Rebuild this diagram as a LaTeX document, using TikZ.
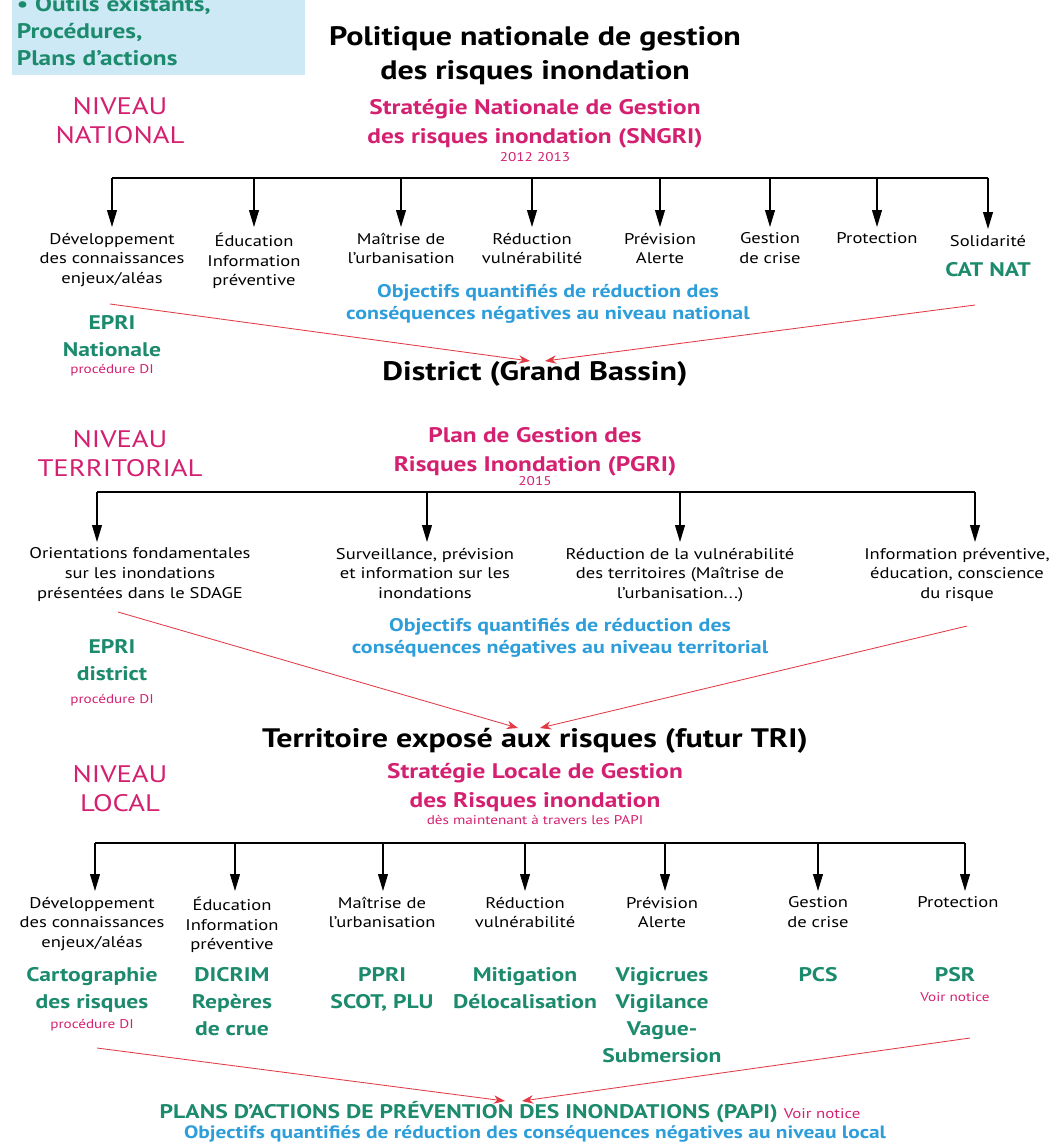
\documentclass[tikz,border=0pt]{standalone}
\usepackage{fontspec}
\setmainfont{PT Sans}[FakeStretch=1.2]
\usetikzlibrary{arrows.meta}
\definecolor{vert}{RGB}{28,138,108}
\definecolor{rose}{RGB}{212,32,112}
\definecolor{bleu}{RGB}{45,158,218}
\definecolor{rouge}{RGB}{226,58,68}
\definecolor{fond}{RGB}{206,233,246}
\tikzset{
  lbl/.style={anchor=north, align=center, inner xsep=0pt, inner ysep=4pt, font=\fontsize{11}{14}\selectfont},
  act/.style={anchor=north, align=center, inner sep=0pt, text=vert, font=\bfseries\fontsize{14}{19.3}\selectfont},
  obj/.style={anchor=north, align=center, inner sep=0pt, text=bleu, font=\bfseries\fontsize{13}{15.5}\selectfont},
  niv/.style={anchor=north, align=center, inner sep=0pt, text=rose, font=\fontsize{17}{20.5}\selectfont},
  plan/.style={anchor=north, align=center, inner sep=0pt, text=rose, font=\bfseries\fontsize{15}{20.5}\selectfont},
  note/.style={anchor=north, inner sep=0pt, text=rose, font=\fontsize{9}{10}\selectfont},
  head/.style={anchor=north, align=center, inner sep=0pt, font=\bfseries\fontsize{19}{24}\selectfont},
  a/.style={-{Triangle[length=12pt,width=7pt]}, line width=0.8pt},
  e/.style={-{Stealth[length=8pt,width=6pt]}, rouge, line width=0.6pt}
}
% bar at y #1 from x #2 to x #3, one arrow per node/x
\newcommand{\fanout}[4]{
  \draw[line width=0.8pt] (#2,#1) -- (#3,#1);
  \foreach \n/\x in {#4} {
    \draw[a] (\x,#1) -- (\n.north -| \x,0);
  }
}

\begin{document}
\begin{tikzpicture}[x=0.025cm, y=-0.025cm]
  \useasboundingbox (0,0) rectangle (1055,1144);

  % cartouche, first line cut by the page edge as in the original
  \node[fill=fond, anchor=south west, minimum width=7.325cm, text width=7.1cm, align=left, inner xsep=2pt, inner ysep=6pt,
        text=vert, font=\bfseries\fontsize{15}{19.5}\selectfont] (box) at (12,75)
        {• Outils existants,\\Procédures,\\Plans d’actions};

  % niveau national
  \node[head] (pol) at (535,26) {Politique nationale de gestion\\des risques inondation};
  \node[niv] (niv1) at (120,97) {NIVEAU\\NATIONAL};
  \node[plan] (sngri) at (535,99) {Stratégie Nationale de Gestion\\des risques inondation (SNGRI)};
  \node[note] (dates1) at (535,152) {2012 2013};

  \node[lbl] (n1) at (112,227) {Développement\\des connaissances\\enjeux/aléas};
  \node[lbl] (n2) at (254,227) {Éducation\\Information\\préventive};
  \node[lbl] (n3) at (401,227) {Maîtrise de\\l’urbanisation};
  \node[lbl] (n4) at (532,227) {Réduction\\vulnérabilité};
  \node[lbl] (n5) at (660,227) {Prévision\\Alerte};
  \node[lbl] (n6) at (770,227) {Gestion\\de crise};
  \node[lbl] (n7) at (877,227) {Protection};
  \node[lbl] (n8) at (988,229) {Solidarité};
  \fanout{178}{112}{988}{n1/112, n2/254, n3/401, n4/532, n5/660, n6/770, n7/877, n8/988}

  \node[act] (catnat) at (988,262) {CAT NAT};
  \node[obj] (obj1) at (548,284) {Objectifs quantifiés de réduction des\\conséquences négatives au niveau national};
  \node[act] (epri1) at (112,315) {EPRI\\Nationale};
  \node[note] (di1) at (112,364) {procédure DI};

  \node[head] (dist) at (535,361) {District (Grand Bassin)};
  \coordinate (r1) at (110,304);
  \coordinate (r2) at (975,305);
  \draw[e] (r1) -- (dist.north -| 530,0);
  \draw[e] (r2) -- (dist.north -| 545,0);

  % niveau territorial
  \node[niv] (niv2) at (120,430) {NIVEAU\\TERRITORIAL};
  \node[plan] (pgri) at (535,427) {Plan de Gestion des\\Risques Inondation (PGRI)};
  \node[note] (dates2) at (535,476) {2015};

  \node[lbl] (t1) at (140,542) {Orientations fondamentales\\sur les inondations\\présentées dans le SDAGE};
  \node[lbl] (t2) at (425,542) {Surveillance, prévision\\et information sur les\\inondations};
  \node[lbl] (t3) at (680,542) {Réduction de la vulnérabilité\\des territoires (Maîtrise de\\l’urbanisation...)};
  \node[lbl] (t4) at (957,542) {Information préventive,\\éducation, conscience\\du risque};
  \fanout{492}{97}{975}{t1/97, t2/427, t3/680, t4/975}

  \node[obj] (obj2) at (560,618) {Objectifs quantifiés de réduction des\\conséquences négatives au niveau territorial};
  \node[act] (epri2) at (112,639) {EPRI\\district};
  \node[note] (di2) at (112,694) {procédure DI};

  \node[head] (tri) at (535,728) {Territoire exposé aux risques (futur TRI)};
  \coordinate (r3) at (118,612);
  \coordinate (r4) at (967,626);
  \draw[e] (r3) -- (tri.north -| 518,0);
  \draw[e] (r4) -- (tri.north -| 540,0);

  % niveau local
  \node[niv] (niv3) at (120,765) {NIVEAU\\LOCAL};
  \node[plan] (sl) at (535,763) {Stratégie Locale de Gestion\\des Risques inondation};
  \node[note] (papi0) at (535,815) {dès maintenant à travers les PAPI};

  \node[lbl] (l1) at (92,891) {Développement\\des connaissances\\enjeux/aléas};
  \node[lbl] (l2) at (232,891) {Éducation\\Information\\préventive};
  \node[lbl] (l3) at (382,891) {Maîtrise de\\l’urbanisation};
  \node[lbl] (l4) at (525,891) {Réduction\\vulnérabilité};
  \node[lbl] (l5) at (662,891) {Prévision\\Alerte};
  \node[lbl] (l6) at (818,891) {Gestion\\de crise};
  \node[lbl] (l7) at (958,891) {Protection};
  \fanout{843}{95}{965}{l1/95, l2/235, l3/383, l4/525, l5/665, l6/818, l7/965}

  \node[act] (carto) at (92,967) {Cartographie\\des risques};
  \node[note] (di3) at (92,1019) {procédure DI};
  \node[act] (dicrim) at (232,967) {DICRIM\\Repères\\de crue};
  \node[act] (ppri) at (382,967) {PPRI\\SCOT, PLU};
  \node[act] (mitig) at (525,967) {Mitigation\\Délocalisation};
  \node[act] (vigi) at (662,967) {Vigicrues\\Vigilance\\Vague-\\Submersion};
  \node[act] (pcs) at (818,967) {PCS};
  \node[act] (psr) at (955,967) {PSR};
  \node[note] (notice1) at (955,992) {Voir notice};

  \node[act, font=\bfseries\fontsize{14}{16}\selectfont] (papi) at (510,1101)
    {PLANS D’ACTIONS DE PRÉVENTION DES INONDATIONS (PAPI) {\mdseries\fontsize{10}{12}\selectfont\color{rose}Voir notice}};
  \node[obj, font=\bfseries\fontsize{12.7}{15}\selectfont] (obj3) at (535,1125) {Objectifs quantifiés de réduction des conséquences négatives au niveau local};
  \coordinate (r5) at (97,1048);
  \coordinate (r6) at (970,1038);
  \draw[e] (r5) -- (papi.north -| 505,0);
  \draw[e] (r6) -- (papi.north -| 522,0);
\end{tikzpicture}
\end{document}
